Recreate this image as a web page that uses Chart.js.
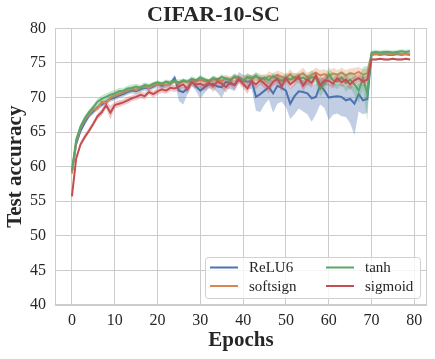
<!DOCTYPE html>
<html><head><meta charset="utf-8">
<script src="https://cdn.jsdelivr.net/npm/chart.js@4.4.1/dist/chart.umd.min.js"></script>
<style>html,body{margin:0;padding:0;background:#fff}#wrap{width:435px;height:359px}</style>
</head><body><div id="wrap"><canvas id="c" width="435" height="359"></canvas></div>
<script>
const epochs = [0,1,2,3,4,5,6,7,8,9,10,11,12,13,14,15,16,17,18,19,20,21,22,23,24,25,26,27,28,29,30,31,32,33,34,35,36,37,38,39,40,41,42,43,44,45,46,47,48,49,50,51,52,53,54,55,56,57,58,59,60,61,62,63,64,65,66,67,68,69,70,71,72,73,74,75,76,77,78,79];

const relu6Mean = [59.2,63.3,65.2,66.4,67.4,68.0,68.6,69.0,69.4,69.8,
  70.0,70.3,70.5,70.8,71.0,70.9,71.2,71.4,71.3,71.6,
  71.9,71.7,71.8,72.0,72.8,71.0,70.8,71.3,72.3,71.6,
  71.0,71.5,71.9,72.0,71.6,71.5,72.3,72.0,71.8,72.9,
  72.5,72.3,72.4,70.1,70.5,71.0,71.5,70.6,71.7,71.4,
  71.0,69.1,70.2,70.9,70.8,70.6,69.9,70.1,71.8,71.0,
  70.0,70.1,70.2,70.1,69.6,69.8,69.1,70.5,69.6,69.8,
  76.2,76.3,76.2,76.3,76.2,76.2,76.3,76.2,76.3,76.2];
const relu6Up = [0.3,0.4,0.4,0.4,0.4,0.4,0.4,0.4,0.4,0.4,
  0.4,0.4,0.4,0.4,0.4,0.4,0.4,0.4,0.4,0.4,
  0.4,0.4,0.4,0.4,0.5,0.7,0.7,0.6,0.6,0.6,
  0.7,0.6,0.6,0.7,0.6,0.7,0.6,0.7,0.6,0.8,
  0.8,0.9,0.9,1.5,1.6,1.4,1.3,1.8,1.4,1.5,
  1.6,2.2,1.8,1.6,1.7,1.8,2.0,1.9,1.3,1.7,
  2.0,1.9,1.8,1.9,2.1,2.0,2.4,1.6,2.2,2.0,
  0.2,0.2,0.2,0.2,0.2,0.2,0.2,0.2,0.2,0.2];
const relu6Down = [0.3,0.4,0.4,0.4,0.4,0.4,0.4,0.4,0.4,0.4,
  0.4,0.4,0.4,0.4,0.4,0.4,0.4,0.4,0.4,0.4,
  0.4,0.4,0.4,0.4,0.5,1.5,1.8,0.8,0.6,0.7,
  1.2,0.8,0.6,0.7,0.9,1.6,1.0,0.8,0.9,0.7,
  0.9,1.0,1.2,2.0,2.6,2.0,1.8,2.8,2.6,2.0,
  2.4,2.2,2.6,2.5,2.8,3.0,3.4,2.5,2.8,2.5,
  3.3,2.6,2.5,2.8,2.4,3.5,4.5,2.5,2.0,2.0,
  0.2,0.2,0.2,0.2,0.2,0.2,0.2,0.2,0.2,0.2];

const softsignMean = [59.0,63.6,65.6,66.8,67.6,68.3,68.4,69.4,69.2,70.0,
  70.3,70.5,70.8,71.0,71.3,71.1,71.5,71.6,71.4,71.8,
  71.9,72.0,71.8,72.1,72.3,72.0,72.4,72.2,72.5,72.3,
  72.6,72.4,72.2,72.7,72.5,72.4,72.8,72.6,72.9,72.7,
  72.5,72.9,72.7,73.0,72.8,72.6,73.1,72.9,73.3,73.0,
  72.8,73.4,72.7,73.2,73.5,72.9,73.3,73.6,73.2,73.4,
  73.1,73.5,73.3,73.6,73.2,73.5,73.4,73.7,73.3,73.5,
  76.3,76.3,76.3,76.4,76.3,76.3,76.4,76.3,76.3,76.2];
const softsignSpread = [0.3,0.3,0.3,0.3,0.3,0.3,0.4,0.3,0.3,0.3,
  0.3,0.3,0.3,0.3,0.3,0.3,0.3,0.3,0.3,0.3,
  0.3,0.3,0.3,0.4,0.3,0.4,0.3,0.4,0.3,0.4,
  0.4,0.5,0.4,0.5,0.4,0.5,0.5,0.4,0.5,0.5,
  0.5,0.6,0.5,0.6,0.6,0.5,0.7,0.6,0.6,0.7,
  0.6,0.7,0.7,0.6,0.8,0.7,0.6,0.7,0.8,0.7,
  0.7,0.8,0.7,0.7,0.8,0.7,0.9,0.7,0.8,0.7,
  0.2,0.2,0.2,0.2,0.2,0.2,0.2,0.2,0.2,0.2];

const tanhMean = [59.5,63.9,65.8,67.0,67.9,68.6,69.4,69.8,70.1,70.4,
  70.6,70.9,71.0,71.3,71.4,71.6,71.4,71.8,71.7,72.0,
  72.2,72.0,72.3,72.1,72.4,72.2,72.5,72.3,72.7,72.5,
  72.9,72.6,72.4,72.8,72.6,73.0,72.7,72.5,73.1,72.8,
  72.4,73.0,72.8,73.2,72.6,72.9,72.5,73.1,72.7,72.4,
  72.9,72.6,73.0,72.7,72.9,72.5,73.0,72.8,71.3,72.0,
  73.4,72.5,72.3,72.9,72.1,72.6,71.9,71.0,72.8,70.6,
  76.5,76.6,76.5,76.6,76.6,76.5,76.6,76.7,76.6,76.7];
const tanhSpread = [0.3,0.4,0.4,0.4,0.4,0.4,0.5,0.5,0.5,0.5,
  0.5,0.5,0.4,0.4,0.5,0.4,0.4,0.4,0.3,0.3,
  0.3,0.3,0.3,0.4,0.3,0.4,0.3,0.3,0.4,0.3,
  0.4,0.3,0.3,0.4,0.3,0.4,0.3,0.5,0.4,0.3,
  0.4,0.5,0.4,0.5,0.6,0.5,0.6,0.5,0.6,0.7,
  0.6,0.8,0.6,0.7,0.9,0.8,0.9,0.8,1.2,0.9,
  1.0,0.9,1.1,1.0,1.3,1.2,1.5,1.8,1.6,4.0,
  0.3,0.3,0.3,0.3,0.3,0.3,0.3,0.3,0.3,0.3];

const sigmoidMean = [55.7,61.2,63.2,64.3,65.2,66.2,67.3,67.9,68.9,67.8,
  68.9,69.1,69.3,69.6,69.9,70.1,70.4,70.2,70.8,70.5,
  70.9,71.2,71.0,71.4,71.3,71.6,71.9,71.2,72.2,71.9,
  72.0,71.7,72.1,71.6,72.3,72.0,71.5,72.2,71.8,72.6,
  72.0,71.3,72.4,71.9,72.5,72.0,71.4,72.3,72.7,71.6,
  72.8,71.9,72.4,73.0,71.7,72.6,72.1,73.2,71.8,72.5,
  72.4,72.0,72.8,72.2,72.6,71.9,72.5,72.8,72.3,72.6,
  75.5,75.5,75.6,75.5,75.5,75.6,75.5,75.5,75.6,75.5];
const sigmoidSpread = [0.3,0.4,0.4,0.4,0.4,0.4,0.4,0.5,0.5,1.0,
  0.5,0.5,0.4,0.5,0.4,0.5,0.5,0.5,0.4,0.5,
  0.5,0.5,0.5,0.5,0.5,0.6,0.5,0.7,0.6,0.6,
  0.6,0.7,0.6,0.8,0.6,0.7,0.8,0.6,0.7,0.6,
  0.7,0.8,0.6,0.7,0.6,0.7,0.8,0.6,0.7,0.8,
  0.6,0.7,0.7,0.6,0.8,0.7,0.7,0.6,0.8,0.7,
  0.7,0.7,0.6,0.7,0.7,0.8,0.7,0.6,0.7,0.6,
  0.15,0.15,0.15,0.15,0.15,0.15,0.15,0.15,0.15,0.15];

const xTicks = [0,10,20,30,40,50,60,70,80];
const yTicks = [40,45,50,55,60,65,70,75,80];
const seriesNames = ['ReLU6','softsign','tanh','sigmoid'];
const seriesColors = ['#4c72b0','#dd8452','#55a868','#c44e52'];
const bandColors = ['rgba(76,114,176,0.35)','rgba(221,132,82,0.3)','rgba(85,168,104,0.3)','rgba(196,78,82,0.3)'];

const series = [
  {mean: relu6Mean, up: relu6Up, down: relu6Down},
  {mean: softsignMean, up: softsignSpread, down: softsignSpread},
  {mean: tanhMean, up: tanhSpread, down: tanhSpread},
  {mean: sigmoidMean, up: sigmoidSpread, down: sigmoidSpread}
];

const SERIF = "'Liberation Serif', 'Times New Roman', serif";
const TXT = '#262626';
const GRID = '#cccccc';

const datasets = [];
series.forEach((s, i) => {
  const base = (3 - i) * 10;
  datasets.push({
    label: seriesNames[i] + ' upper', isBand: true,
    data: epochs.map((e, k) => ({x: e, y: s.mean[k] + s.up[k]})),
    borderWidth: 0, pointRadius: 0, fill: false, order: base + 2, borderColor: 'rgba(0,0,0,0)'
  });
  datasets.push({
    label: seriesNames[i] + ' lower', isBand: true,
    data: epochs.map((e, k) => ({x: e, y: s.mean[k] - s.down[k]})),
    borderWidth: 0, pointRadius: 0, fill: '-1', backgroundColor: bandColors[i], order: base + 1, borderColor: 'rgba(0,0,0,0)'
  });
  datasets.push({
    label: seriesNames[i], isBand: false,
    data: epochs.map((e, k) => ({x: e, y: s.mean[k]})),
    borderColor: seriesColors[i], backgroundColor: seriesColors[i],
    borderWidth: 2, pointRadius: 0, fill: false, order: base, tension: 0
  });
});

const framePlugin = {
  id: 'frame',
  afterDraw(chart) {
    const ctx = chart.ctx, a = chart.chartArea;
    ctx.save();
    ctx.strokeStyle = GRID; ctx.lineWidth = 1;
    ctx.strokeRect(Math.round(a.left) + 0.5, Math.round(a.top) + 0.5, Math.round(a.right - a.left) - 1, Math.round(a.bottom - a.top) - 1);
    // legend
    const w = 215, h = 41;
    const bx = a.right - 7 - w, by = a.bottom - 7 - h;
    ctx.fillStyle = 'rgba(255,255,255,0.8)';
    ctx.strokeStyle = '#d0d0d0';
    ctx.beginPath();
    ctx.roundRect(bx + 0.5, by + 0.5, w, h, 3);
    ctx.fill(); ctx.stroke();
    const layout = [[0, 0], [1, 0], [0, 1], [1, 1]]; // [row, col] for ReLU6, softsign, tanh, sigmoid
    const lines = chart.data.datasets.filter(d => !d.isBand);
    ctx.font = '15px ' + SERIF;
    ctx.textBaseline = 'middle';
    ctx.textAlign = 'left';
    lines.forEach((d, i) => {
      const [row, col] = layout[i];
      const y = by + 10.5 + row * 18.5;
      const lx = bx + 5 + col * 116;
      ctx.strokeStyle = d.borderColor; ctx.lineWidth = 2;
      ctx.beginPath(); ctx.moveTo(lx, y); ctx.lineTo(lx + 28, y); ctx.stroke();
      ctx.fillStyle = TXT;
      ctx.fillText(d.label, lx + 39, y + 1);
    });
    ctx.restore();
  }
};

new Chart(document.getElementById('c'), {
  type: 'line',
  data: {datasets},
  options: {
    responsive: false, animation: false, devicePixelRatio: 1,
    layout: {padding: {left: 0, right: 8, top: 0, bottom: 0}},
    plugins: {
      legend: {display: false},
      tooltip: {enabled: false},
      filler: {propagate: false},
      title: {display: true, text: 'CIFAR-10-SC', color: TXT,
        font: {family: SERIF, size: 22, weight: 'bold'}, padding: {top: 2, bottom: 0}}
    },
    scales: {
      x: {
        type: 'linear', min: -3.95, max: 82.95,
        afterBuildTicks: s => { s.ticks = xTicks.map(v => ({value: v})); },
        afterFit: s => { s.height = 54; },
        grid: {color: GRID, lineWidth: 1, drawTicks: false},
        border: {display: false},
        ticks: {padding: 6, color: TXT, font: {family: SERIF, size: 16}, maxRotation: 0, autoSkip: false},
        title: {display: true, text: 'Epochs', color: TXT, font: {family: SERIF, size: 21, weight: 'bold'}, padding: {top: 0, bottom: 6}}
      },
      y: {
        type: 'linear', min: 40, max: 80,
        afterBuildTicks: s => { s.ticks = yTicks.map(v => ({value: v})); },
        afterFit: s => { s.width = 55; },
        grid: {color: GRID, lineWidth: 1, drawTicks: false},
        border: {display: false},
        ticks: {padding: 9, color: TXT, font: {family: SERIF, size: 16}, autoSkip: false},
        title: {display: true, text: 'Test accuracy', color: TXT, font: {family: SERIF, size: 21, weight: 'bold'}, padding: {top: 3, bottom: 0}}
      }
    }
  },
  plugins: [framePlugin]
});
</script>
</body></html>
